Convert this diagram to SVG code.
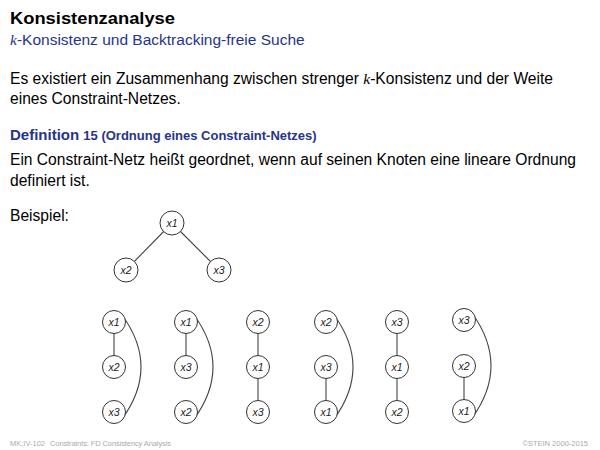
<svg xmlns="http://www.w3.org/2000/svg" width="600" height="450" viewBox="0 0 600 450">
<style>
.t{font-family:"Liberation Sans",Arial,sans-serif;fill:#000}
.k{font-family:"Liberation Serif","Times New Roman",serif;font-style:italic}
.blue{fill:#26348a}
.n circle{fill:#fff;stroke:#333;stroke-width:1}
.n text{font-family:"Liberation Sans",Arial,sans-serif;font-style:italic;font-size:10.5px;fill:#222;text-anchor:middle}
.e{fill:none;stroke:#444;stroke-width:1.1}
.f{font-family:"Liberation Sans",Arial,sans-serif;font-size:7.5px;fill:#aaa}
</style>
<rect width="600" height="450" fill="#fff"/>
<text class="t" x="10" y="24" font-size="16" font-weight="bold" textLength="165" lengthAdjust="spacingAndGlyphs">Konsistenzanalyse</text>
<text class="t blue" x="10" y="45" font-size="15.5"><tspan class="k">k</tspan>-Konsistenz und Backtracking-freie Suche</text>
<text class="t" x="10" y="84" font-size="15.6" textLength="543">Es existiert ein Zusammenhang zwischen strenger <tspan class="k">k</tspan>-Konsistenz und der Weite</text>
<text class="t" x="10" y="104" font-size="15.6">eines Constraint-Netzes.</text>
<text class="t blue" x="10" y="140" font-size="15" font-weight="bold">Definition <tspan font-size="13">15 (Ordnung eines Constraint-Netzes)</tspan></text>
<text class="t" x="10" y="165" font-size="15.6" textLength="566">Ein Constraint-Netz heißt geordnet, wenn auf seinen Knoten eine lineare Ordnung</text>
<text class="t" x="10" y="186" font-size="15.6">definiert ist.</text>
<text class="t" x="10" y="221" font-size="15.6">Beispiel:</text>
<g id="connectors">
<line class="e" x1="172" y1="223" x2="126" y2="270"/>
<line class="e" x1="172" y1="223" x2="219" y2="270"/>
<line class="e" x1="114" y1="322" x2="114" y2="367"/>
<path class="e" d="M122,315 Q160,367 122,419"/>
<line class="e" x1="186" y1="322" x2="186" y2="367"/>
<path class="e" d="M194,315 Q232,367 194,419"/>
<line class="e" x1="258" y1="322" x2="258" y2="367"/>
<line class="e" x1="258" y1="367" x2="258" y2="412"/>
<line class="e" x1="326" y1="367" x2="326" y2="412"/>
<path class="e" d="M334,315 Q372,367 334,419"/>
<line class="e" x1="397" y1="322" x2="397" y2="367"/>
<line class="e" x1="397" y1="367" x2="397" y2="412"/>
<line class="e" x1="464" y1="366" x2="464" y2="411"/>
<path class="e" d="M472,313 Q510,366 472,418"/>
</g>
<g id="tree-x1" class="n"><circle cx="172" cy="223" r="12"/><text x="172" y="227">x1</text></g>
<g id="tree-x2" class="n"><circle cx="126" cy="270" r="12"/><text x="126" y="274">x2</text></g>
<g id="tree-x3" class="n"><circle cx="219" cy="270" r="12"/><text x="219" y="274">x3</text></g>
<g id="o1-x1" class="n"><circle cx="114" cy="322" r="11.5"/><text x="114" y="326">x1</text></g>
<g id="o1-x2" class="n"><circle cx="114" cy="367" r="11.5"/><text x="114" y="371">x2</text></g>
<g id="o1-x3" class="n"><circle cx="114" cy="412" r="11.5"/><text x="114" y="416">x3</text></g>
<g id="o2-x1" class="n"><circle cx="186" cy="322" r="11.5"/><text x="186" y="326">x1</text></g>
<g id="o2-x3" class="n"><circle cx="186" cy="367" r="11.5"/><text x="186" y="371">x3</text></g>
<g id="o2-x2" class="n"><circle cx="186" cy="412" r="11.5"/><text x="186" y="416">x2</text></g>
<g id="o3-x2" class="n"><circle cx="258" cy="322" r="11.5"/><text x="258" y="326">x2</text></g>
<g id="o3-x1" class="n"><circle cx="258" cy="367" r="11.5"/><text x="258" y="371">x1</text></g>
<g id="o3-x3" class="n"><circle cx="258" cy="412" r="11.5"/><text x="258" y="416">x3</text></g>
<g id="o4-x2" class="n"><circle cx="326" cy="322" r="11.5"/><text x="326" y="326">x2</text></g>
<g id="o4-x3" class="n"><circle cx="326" cy="367" r="11.5"/><text x="326" y="371">x3</text></g>
<g id="o4-x1" class="n"><circle cx="326" cy="412" r="11.5"/><text x="326" y="416">x1</text></g>
<g id="o5-x3" class="n"><circle cx="397" cy="322" r="11.5"/><text x="397" y="326">x3</text></g>
<g id="o5-x1" class="n"><circle cx="397" cy="367" r="11.5"/><text x="397" y="371">x1</text></g>
<g id="o5-x2" class="n"><circle cx="397" cy="412" r="11.5"/><text x="397" y="416">x2</text></g>
<g id="o6-x3" class="n"><circle cx="464" cy="320" r="11.5"/><text x="464" y="324">x3</text></g>
<g id="o6-x2" class="n"><circle cx="464" cy="366" r="11.5"/><text x="464" y="370">x2</text></g>
<g id="o6-x1" class="n"><circle cx="464" cy="411" r="11.5"/><text x="464" y="415">x1</text></g>
<text class="f" x="10" y="446">MK:IV-102</text>
<text class="f" x="50" y="446" textLength="121">Constraints: FD Consistency Analysis</text>
<text class="f" x="588" y="446" text-anchor="end">©STEIN 2000-2015</text>
</svg>
